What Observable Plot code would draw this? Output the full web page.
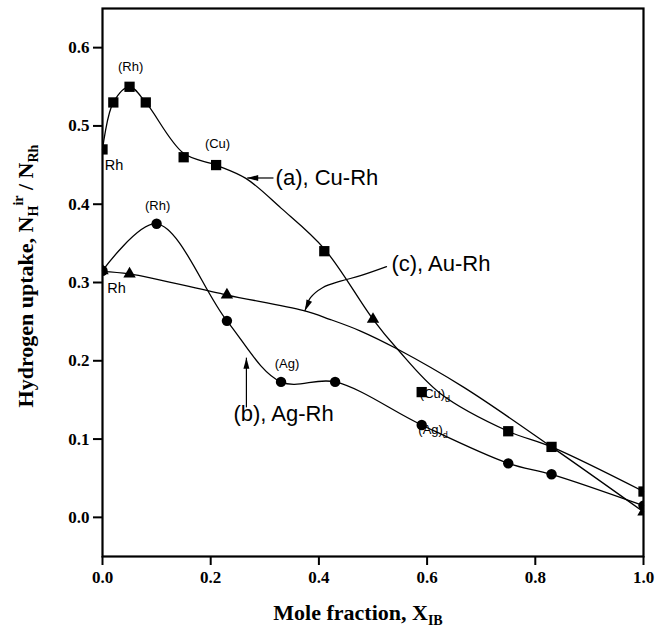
<!DOCTYPE html>
<html><head><meta charset="utf-8">
<script src="https://cdn.jsdelivr.net/npm/d3@7"></script>
<script src="https://cdn.jsdelivr.net/npm/@observablehq/plot@0.6"></script>
<style>body{margin:0;background:#fff} svg{display:block}</style>
</head><body><div id="chart"></div>
<script>
// ---- data ----
// (a) Cu-Rh, squares
const cuX = [0, 0.02, 0.05, 0.08, 0.15, 0.21, 0.41, 0.59, 0.75, 0.83, 1.0];
const cuY = [0.47, 0.53, 0.55, 0.53, 0.46, 0.45, 0.34, 0.16, 0.11, 0.09, 0.033];
// (b) Ag-Rh, circles
const agX = [0, 0.10, 0.23, 0.33, 0.43, 0.59, 0.75, 0.83, 1.0];
const agY = [0.315, 0.375, 0.251, 0.173, 0.173, 0.118, 0.069, 0.055, 0.015];
// (c) Au-Rh, triangles
const auX = [0, 0.05, 0.23, 0.50, 1.0];
const auY = [0.315, 0.311, 0.284, 0.253, 0.007];
// hand-fitted curves as drawn in the figure
const cuCurveX = [0, 0.02, 0.05, 0.08, 0.15, 0.21, 0.265, 0.33, 0.41, 0.50, 0.545, 0.625, 0.75, 0.83, 1.0];
const cuCurveY = [0.47, 0.53, 0.55, 0.53, 0.465, 0.45, 0.433, 0.395, 0.343, 0.253, 0.215, 0.158, 0.11, 0.09, 0.033];
const auCurveX = [0, 0.05, 0.23, 0.372, 0.42, 0.477, 0.545, 0.668, 0.83, 1.0];
const auCurveY = [0.314, 0.311, 0.284, 0.264, 0.253, 0.238, 0.215, 0.166, 0.09, 0.007];
// ticks
const xTicks = [0, 0.2, 0.4, 0.6, 0.8, 1.0];
const yTicks = [0, 0.1, 0.2, 0.3, 0.4, 0.5, 0.6];
// annotations
const centerLabels = ["(Rh)", "(Cu)", "(Rh)", "(Ag)"];
const centerLabelX = [0.052, 0.2126, 0.102, 0.341];
const centerLabelY = [0.5756, 0.477, 0.398, 0.196];
const rhLabels = ["Rh", "Rh"];
const rhLabelX = [0.004, 0.009];
const rhLabelY = [0.449, 0.292];
const seriesLabels = ["(a), Cu-Rh", "(c), Au-Rh", "(b), Ag-Rh"];
const seriesLabelX = [0.32, 0.534, 0.242];
const seriesLabelY = [0.434, 0.3236, 0.132];
const subLabels = ["(Cu)", "(Ag)"];
const subLabelSub = ["d", "d"];
const subLabelX = [0.6155, 0.612];
const subLabelY = [0.1576, 0.1107];
// straight pointer arrows: (a) and (b)
const arrowX1 = [0.316, 0.266];
const arrowY1 = [0.4335, 0.1405];
const arrowX2 = [0.2675, 0.266];
const arrowY2 = [0.4335, 0.204];
// curved pointer for (c)
const leaderX = [0.525, 0.4769, 0.4399, 0.4067, 0.3845, 0.3743];
const leaderY = [0.3202, 0.3087, 0.3017, 0.2934, 0.2806, 0.2640];
// arrow tips (x, y, pointing rotation in degrees)
const tipX = [0.2675, 0.266, 0.3743];
const tipY = [0.4335, 0.204, 0.2640];
const tipRot = [270, 0, 203];

const idx = a => d3.range(a.length);
const serif = "'Liberation Serif', 'Times New Roman', serif";
const sans = "'Liberation Sans', Arial, sans-serif";

const arrowHead = {
  draw(ctx, size) {
    const r = Math.sqrt(size / Math.PI);
    ctx.moveTo(0, 0);
    ctx.lineTo(0.6 * r, 2.2 * r);
    ctx.lineTo(-0.6 * r, 2.2 * r);
    ctx.closePath();
  }
};

const lineStyle = {stroke: "black", strokeWidth: 1.3, curve: "catmull-rom"};

const plot = Plot.plot({
  width: 665, height: 629,
  marginLeft: 102, marginRight: 22, marginTop: 8, marginBottom: 73,
  x: {domain: [0, 1]},
  y: {domain: [-0.05, 0.65]},
  style: {fontFamily: sans, background: "white", color: "black"},
  marks: [
    Plot.axisX({ticks: xTicks, tickSize: 9, tickPadding: 5, tickFormat: d3.format(".1f"),
      fontSize: 17, fontWeight: "bold", fontFamily: serif, label: null, strokeWidth: 2}),
    Plot.axisY({ticks: yTicks, tickSize: 9, tickPadding: 4, tickFormat: d3.format(".1f"),
      fontSize: 17, fontWeight: "bold", fontFamily: serif, label: null, strokeWidth: 2}),
    Plot.line(idx(cuCurveX), {x: i => cuCurveX[i], y: i => cuCurveY[i], ...lineStyle}),
    Plot.line(idx(auCurveX), {x: i => auCurveX[i], y: i => auCurveY[i], ...lineStyle}),
    Plot.line(idx(agX), {x: i => agX[i], y: i => agY[i], ...lineStyle}),
    Plot.dot(idx(cuX), {x: i => cuX[i], y: i => cuY[i], symbol: "square", r: 5.8, fill: "black", clip: true}),
    Plot.dot(idx(agX), {x: i => agX[i], y: i => agY[i], symbol: "circle", r: 5.2, fill: "black", clip: true}),
    Plot.dot(idx(auX), {x: i => auX[i], y: i => auY[i], symbol: "triangle", r: 4.6, fill: "black", clip: true}),
    Plot.text(idx(centerLabels), {x: i => centerLabelX[i], y: i => centerLabelY[i], text: i => centerLabels[i],
      fontSize: 13, fontFamily: sans, fill: "black", textAnchor: "middle"}),
    Plot.text(idx(rhLabels), {x: i => rhLabelX[i], y: i => rhLabelY[i], text: i => rhLabels[i],
      fontSize: 14.5, fontFamily: sans, fill: "black", textAnchor: "start"}),
    Plot.text(idx(seriesLabels), {x: i => seriesLabelX[i], y: i => seriesLabelY[i], text: i => seriesLabels[i],
      fontSize: 22, fontFamily: sans, fill: "black", textAnchor: "start"}),
    Plot.link(idx(arrowX1), {x1: i => arrowX1[i], y1: i => arrowY1[i], x2: i => arrowX2[i], y2: i => arrowY2[i],
      stroke: "black", strokeWidth: 1.2}),
    Plot.line(idx(leaderX), {x: i => leaderX[i], y: i => leaderY[i], stroke: "black", strokeWidth: 1.2, curve: "catmull-rom"}),
    Plot.dot(idx(tipX), {x: i => tipX[i], y: i => tipY[i], rotate: i => tipRot[i], symbol: arrowHead, r: 5, fill: "black"}),
    Plot.frame({stroke: "black", strokeWidth: 2.2})
  ]
});

const svg = d3.select(plot);
const sx = plot.scale("x"), sy = plot.scale("y");

// subscript labels (Cu)d, (Ag)d
subLabels.forEach((t, i) => {
  const tx = svg.append("text")
    .attr("x", sx.apply(subLabelX[i])).attr("y", sy.apply(subLabelY[i]))
    .attr("dy", "0.32em")
    .style("font-family", sans).style("font-size", "13px").attr("fill", "black");
  tx.append("tspan").text(t);
  tx.append("tspan").attr("dy", 4).style("font-size", "9px").text(subLabelSub[i]);
});

// y-axis title
const yt = svg.append("text")
  .attr("transform", "translate(33,276) rotate(-90)")
  .attr("text-anchor", "middle")
  .style("font-family", serif).style("font-weight", "bold").style("font-size", "22px").attr("fill", "black");
yt.append("tspan").text("Hydrogen uptake, N");
yt.append("tspan").attr("dy", 5).style("font-size", "14px").text("H");
yt.append("tspan").attr("dy", -15).style("font-size", "14px").text("ir");
yt.append("tspan").attr("dy", 10).text(" / N");
yt.append("tspan").attr("dy", 5).style("font-size", "14px").text("Rh");

// x-axis title
const xt = svg.append("text")
  .attr("x", 358).attr("y", 620)
  .attr("text-anchor", "middle")
  .style("font-family", serif).style("font-weight", "bold").style("font-size", "22px").attr("fill", "black");
xt.append("tspan").text("Mole fraction, X");
xt.append("tspan").attr("dy", 5).style("font-size", "14px").text("IB");

document.getElementById("chart").appendChild(plot);
</script>
</body></html>
